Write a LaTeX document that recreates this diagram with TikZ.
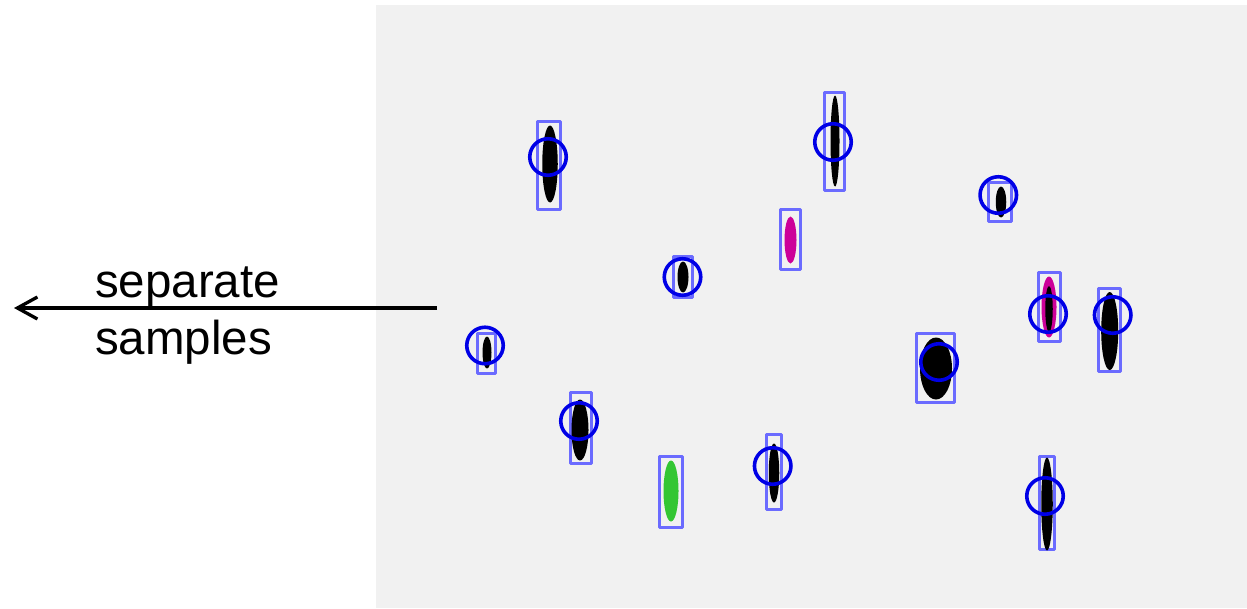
\documentclass[tikz,border=0pt]{standalone}
\usepackage{fontspec}
\setmainfont{Liberation Sans}
\usetikzlibrary{shapes.geometric,arrows.meta}
\definecolor{panelgray}{HTML}{F1F1F1}
\definecolor{boxblue}{HTML}{6B6BFF}
\definecolor{ringblue}{HTML}{0000E6}
\definecolor{spotgreen}{HTML}{33C633}
\definecolor{spotmagenta}{HTML}{CC0099}
\tikzset{
  box/.style={draw=boxblue, line width=3.5pt, rectangle, inner sep=0pt, line join=round},
  spot/.style={fill=black, draw=none, ellipse, inner sep=0pt},
  ring/.style={draw=ringblue, line width=3.6pt, circle, inner sep=0pt, minimum size=36.5pt},
  label/.style={anchor=base west, inner sep=0pt, font=\fontsize{47.5}{56}\selectfont}
}
\newcommand{\gelbox}[5]{\node[box, minimum width=#4pt, minimum height=#5pt] (#1) at (#2,#3) {};}
\newcommand{\gelspot}[6][black]{\node[spot, fill=#1, minimum width=#5pt, minimum height=#6pt] (#2) at (#3,#4) {};}
\newcommand{\gelring}[3]{\node[ring] (#1) at (#2,#3) {};}
\begin{document}
\begin{tikzpicture}[x=1pt, y=-1pt]
\useasboundingbox (0,0) rectangle (1247,608);
% gel panel
\fill[panelgray] (376,5) rectangle (1247,608);

% bounding boxes
\gelbox{b1}{486.5}{353.5}{18}{40}
\gelbox{b2}{549}{165.5}{23}{88}
\gelbox{b3}{581}{428}{21}{71}
\gelbox{b4}{683}{277}{19}{41}
\gelbox{b5}{671}{492}{23}{71}
\gelbox{b6}{774}{472}{15}{75}
\gelbox{b7}{790.5}{239.5}{20}{60}
\gelbox{b8}{834.5}{141.5}{20}{98}
\gelbox{b9}{935.5}{368}{38}{69}
\gelbox{b10}{1000}{202}{23}{39}
\gelbox{b11}{1049.5}{307}{22}{69}
\gelbox{b12}{1109.5}{330}{22}{83}
\gelbox{b13}{1047}{503}{15}{93}

% spots
\gelspot{s1}{487}{352.5}{9}{32}
\gelspot{s2}{550}{164}{15.5}{77}
\gelspot{s3}{580}{430}{17}{61}
\gelspot{s4}{683}{277}{11}{31}
\gelspot[spotgreen]{s5}{671}{491}{15}{61}
\gelspot{s6}{774}{473}{10.5}{59}
\gelspot[spotmagenta]{s7}{790.5}{240}{12}{47}
\gelspot{s8}{835}{141}{9}{91}
\gelspot{s9}{936}{368.5}{32}{62}
\gelspot{s10}{1001}{202}{10.5}{31}
\gelspot[spotmagenta]{s11}{1049}{307}{15}{61}
\gelspot{s11b}{1049}{309}{7.5}{46}
\gelspot{s12}{1109.7}{331}{17}{78}
\gelspot{s13}{1047}{504}{11.5}{93}

% detection rings
\gelring{r1}{485}{345.5}
\gelring{r2}{548}{157}
\gelring{r3}{579}{421}
\gelring{r4}{682.5}{277}
\gelring{r6}{772.7}{466}
\gelring{r8}{833}{142}
\gelring{r9}{939}{362}
\gelring{r10}{998.3}{195}
\gelring{r11}{1048}{314}
\gelring{r12}{1112.7}{315}
\gelring{r13}{1045}{496}

% arrow and label
\coordinate (astart) at (437,308);
\coordinate (aend) at (14,308);
\draw[line width=3.3pt, -{Straight Barb[length=20pt,width=22pt]}] (astart) -- (aend);
\node[label] (t1) at (95,297) {separate};
\node[label] (t2) at (95,354) {samples};
\end{tikzpicture}
\end{document}
